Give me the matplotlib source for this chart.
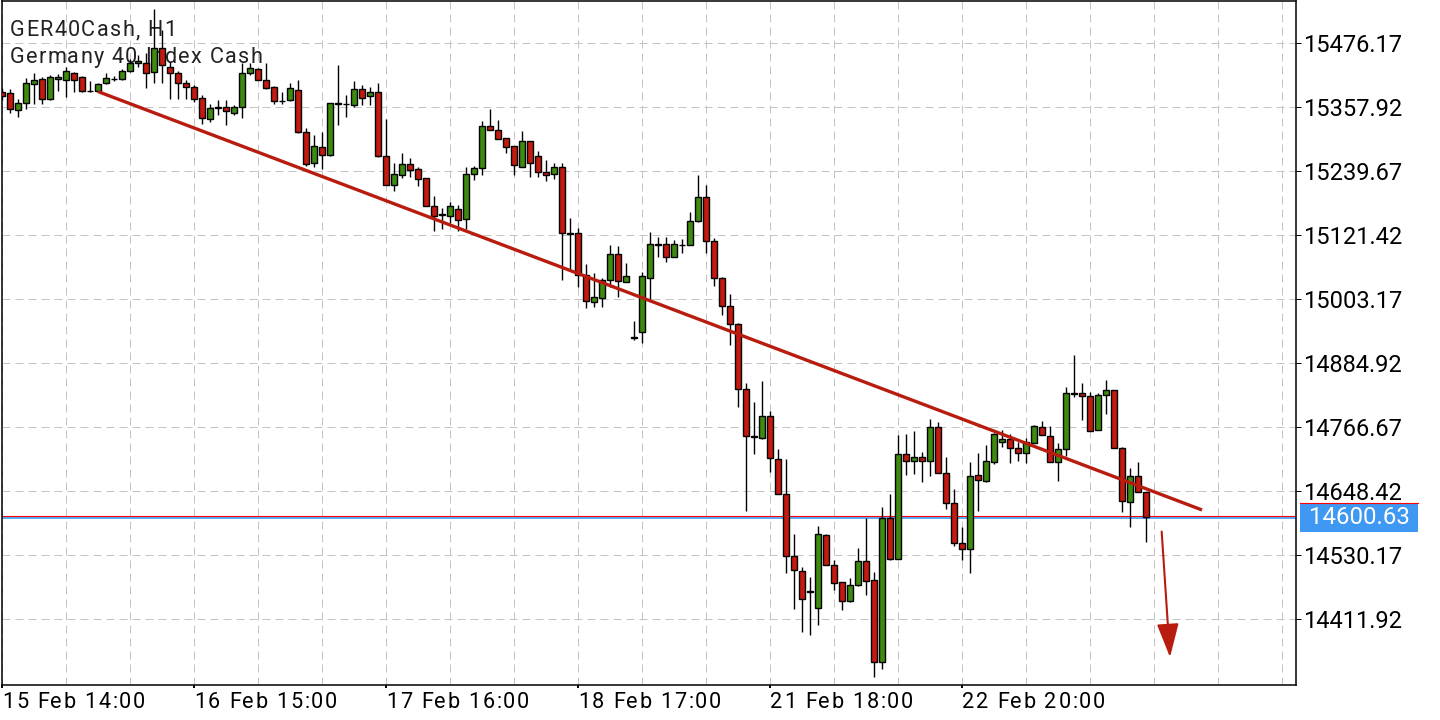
import matplotlib.pyplot as plt
from matplotlib.patches import Rectangle, FancyArrowPatch, ArrowStyle
from matplotlib.transforms import blended_transform_factory, ScaledTranslation
from matplotlib.font_manager import findfont, FontProperties
from matplotlib.ft2font import FT2Font

try:
    from matplotlib.ft2font import LoadFlags
    NO_HINT = LoadFlags.NO_HINTING
except ImportError:
    from matplotlib.ft2font import LOAD_NO_HINTING as NO_HINT

plt.rcParams['font.family'] = ['Roboto', 'DejaVu Sans']

# hourly bars GER40Cash, first bar = 15 Feb 14:00
opens = [15386, 15384, 15353, 15366, 15401, 15410, 15373, 15411, 15408, 15421,
         15414, 15388, 15388, 15403, 15411, 15410, 15425, 15440, 15440, 15423,
         15467, 15432, 15421, 15403, 15395, 15375, 15336, 15357, 15358, 15347,
         15358, 15421, 15429, 15408, 15395, 15370, 15371, 15390, 15312, 15255,
         15285, 15270, 15366, 15364, 15362, 15392, 15379, 15386, 15268, 15214,
         15233, 15253, 15244, 15227, 15175, 15159, 15157, 15170, 15151, 15235,
         15246, 15323, 15316, 15301, 15286, 15248, 15296, 15268, 15238, 15235,
         15248, 15126, 15125, 15048, 14998, 15005, 15039, 15087, 15035, 14933,
         14943, 15042, 15105, 15105, 15081, 15104, 15103, 15148, 15192, 15111,
         15043, 14991, 14957, 14837, 14750, 14747, 14787, 14708, 14643, 14529,
         14501, 14465, 14433, 14568, 14512, 14480, 14446, 14475, 14519, 14484,
         14333, 14600, 14524, 14717, 14705, 14712, 14704, 14767, 14682, 14627,
         14553, 14542, 14678, 14668, 14702, 14740, 14745, 14728, 14719, 14738,
         14768, 14751, 14702, 14727, 14830, 14830, 14824, 14762, 14826, 14835,
         14729, 14628, 14677, 14647]
highs = [15394, 15392, 15373, 15412, 15421, 15414, 15418, 15420, 15432, 15423,
         15416, 15407, 15403, 15421, 15416, 15429, 15447, 15455, 15458, 15540,
         15501, 15442, 15425, 15408, 15399, 15381, 15364, 15371, 15371, 15362,
         15440, 15440, 15431, 15440, 15397, 15386, 15403, 15408, 15320, 15307,
         15312, 15366, 15436, 15381, 15407, 15399, 15395, 15403, 15336, 15255,
         15274, 15264, 15248, 15227, 15194, 15172, 15183, 15177, 15248, 15249,
         15333, 15355, 15334, 15301, 15286, 15314, 15296, 15277, 15261, 15255,
         15255, 15153, 15135, 15068, 15052, 15042, 15103, 15102, 15070, 14963,
         15054, 15127, 15118, 15118, 15113, 15114, 15164, 15233, 15214, 15116,
         15044, 15013, 14959, 14849, 14813, 14852, 14797, 14726, 14708, 14569,
         14508, 14490, 14584, 14569, 14521, 14481, 14488, 14543, 14599, 14499,
         14619, 14643, 14752, 14754, 14760, 14721, 14782, 14776, 14712, 14652,
         14582, 14702, 14719, 14734, 14756, 14762, 14754, 14739, 14747, 14771,
         14778, 14769, 14737, 14841, 14900, 14848, 14832, 14830, 14854, 14836,
         14730, 14691, 14702, 14648]
lows = [15371, 15347, 15340, 15355, 15364, 15364, 15371, 15388, 15377, 15386,
        15386, 15386, 15386, 15401, 15407, 15409, 15424, 15432, 15394, 15403,
        15403, 15373, 15373, 15373, 15368, 15327, 15331, 15344, 15325, 15344,
        15338, 15418, 15408, 15392, 15364, 15364, 15370, 15310, 15249, 15248,
        15244, 15268, 15325, 15340, 15358, 15362, 15362, 15266, 15214, 15203,
        15227, 15229, 15212, 15175, 15129, 15133, 15144, 15129, 15133, 15224,
        15233, 15316, 15299, 15273, 15233, 15248, 15229, 15229, 15222, 15225,
        15039, 15057, 15026, 14987, 14989, 14989, 15026, 15007, 15035, 14928,
        14922, 15002, 15081, 15072, 15081, 15089, 15103, 15146, 15089, 15028,
        14974, 14919, 14804, 14612, 14717, 14745, 14684, 14643, 14497, 14431,
        14388, 14383, 14401, 14512, 14466, 14429, 14444, 14473, 14457, 14305,
        14320, 14521, 14523, 14678, 14680, 14665, 14676, 14682, 14615, 14547,
        14521, 14497, 14612, 14665, 14699, 14730, 14701, 14704, 14701, 14737,
        14752, 14702, 14667, 14713, 14822, 14780, 14760, 14761, 14791, 14728,
        14610, 14582, 14647, 14555]
closes = [15379, 15355, 15366, 15403, 15408, 15373, 15414, 15413, 15425, 15408,
          15388, 15388, 15401, 15412, 15410, 15425, 15440, 15443, 15421, 15467,
          15436, 15421, 15403, 15395, 15373, 15338, 15357, 15358, 15351, 15358,
          15421, 15431, 15408, 15394, 15370, 15369, 15394, 15312, 15253, 15286,
          15270, 15366, 15364, 15364, 15392, 15375, 15386, 15268, 15214, 15235,
          15253, 15242, 15225, 15175, 15157, 15161, 15175, 15150, 15235, 15246,
          15323, 15316, 15299, 15285, 15251, 15296, 15255, 15238, 15233, 15248,
          15126, 15124, 15048, 15000, 15007, 15039, 15087, 15037, 15046, 14932,
          15046, 15105, 15104, 15081, 15105, 15103, 15148, 15192, 15111, 15042,
          14991, 14957, 14837, 14751, 14749, 14787, 14710, 14643, 14529, 14503,
          14449, 14463, 14569, 14512, 14479, 14446, 14475, 14519, 14482, 14333,
          14600, 14523, 14717, 14704, 14712, 14704, 14767, 14682, 14627, 14553,
          14542, 14676, 14669, 14704, 14754, 14745, 14728, 14719, 14739, 14769,
          14752, 14702, 14726, 14830, 14829, 14824, 14760, 14826, 14835, 14728,
          14630, 14676, 14647, 14600.63]

bid = 14600.63
ask = 14602.0

price_ticks = [15476.17, 15357.92, 15239.67, 15121.42, 15003.17,
               14884.92, 14766.67, 14648.42, 14530.17, 14411.92]
date_pos = [0, 24, 48, 72, 96, 120]
date_labels = ['15 Feb 14:00', '16 Feb 15:00', '17 Feb 16:00',
               '18 Feb 17:00', '21 Feb 18:00', '22 Feb 20:00']

# trend line and arrow (bar index, price)
trend_x = [12, 150]
trend_y = [15387, 14614]
arrow_from = (144.96, 14574)
arrow_to = (146.0, 14342)

GREEN = '#3d8b0f'
RED = '#c41a10'
LINE_RED = '#b81c0e'
BLUE = '#3f98f2'
DPI = 100

fig = plt.figure(figsize=(14.4, 7.2), dpi=DPI)
ax = fig.add_axes([2 / 1440, 35 / 720, 1294 / 1440, 684 / 720])

font_file = findfont(FontProperties(family='Roboto'))


def spaced_text(x, y, s, transform, size, spacing, dy=0, **kw):
    # terminal text is drawn with a bit of letter spacing
    ft = FT2Font(font_file)
    ft.set_size(size, DPI)
    pen = 0.0
    for ch in s:
        off = ScaledTranslation(pen / DPI, dy / DPI, fig.dpi_scale_trans)
        ax.text(x, y, ch, transform=transform + off, fontsize=size,
                ha='left', va='baseline', **kw)
        g = ft.load_char(ord(ch), flags=NO_HINT)
        pen += g.linearHoriAdvance / 65536 + spacing


n = len(opens)
xs = list(range(n))
colors = [GREEN if c >= o else RED for o, c in zip(opens, closes)]

ax.vlines(xs, lows, highs, color='black', linewidth=1.0, zorder=3)
ax.bar(xs, [c - o for o, c in zip(opens, closes)], bottom=opens, width=0.7,
       color=colors, edgecolor='black', linewidth=1.0, zorder=4)

ax.axhline(ask, color='#ff0000', linewidth=0.8, zorder=2)
ax.axhline(bid - 1.3, color=BLUE, linewidth=1.2, zorder=2)

ax.plot(trend_x, trend_y, color=LINE_RED, linewidth=2.4, zorder=6,
        solid_capstyle='butt')
arr = FancyArrowPatch(arrow_from, arrow_to,
                      arrowstyle=ArrowStyle('-|>', head_length=20.9, head_width=6.8),
                      mutation_scale=1, color=LINE_RED, linewidth=1.5,
                      shrinkA=0, shrinkB=0, zorder=6)
ax.add_patch(arr)

ax.set_xlim(0, 161.75)
ax.set_ylim(14290.6, 15554.3)

# axes and grid
ax.yaxis.tick_right()
ax.set_yticks(price_ticks)
ax.set_yticklabels([f'{v:.2f}' for v in price_ticks])
ax.set_xticks(date_pos)
ax.set_xticklabels([])
ax.set_xticks(range(0, 162, 8), minor=True)
ax.tick_params(axis='y', length=3.6, width=0.72, pad=1.5, labelsize=17, colors='black')
ax.tick_params(axis='x', which='major', length=2, width=1.4)
ax.tick_params(axis='x', which='minor', length=0)
ax.grid(axis='x', which='both', color='#c4c4c4', linestyle=(0, (8, 5)), linewidth=0.72, zorder=0)
ax.grid(axis='y', which='major', color='#c4c4c4', linestyle=(0, (8, 5)), linewidth=0.72, zorder=0)
ax.set_axisbelow(True)
for sp in ax.spines.values():
    sp.set_linewidth(1.1)
    sp.set_color('black')

# date labels under the axis, left aligned on their tick
xtr = ax.get_xaxis_transform()
for pos, lab in zip(date_pos, date_labels):
    spaced_text(pos, 0, lab, xtr, 15.6, 1.7, dy=-23, color='black')

spaced_text(8 / 1294, 0.9488, 'GER40Cash, H1', ax.transAxes, 15.6, 1.3,
            color='#222222', zorder=1)
spaced_text(8 / 1294, 0.9094, 'Germany 40 Index Cash', ax.transAxes, 15.6, 1.2,
            color='#222222', zorder=1)

# current price label on the price scale
tr = blended_transform_factory(ax.transAxes, ax.transData)
ax.add_patch(Rectangle((1.0031, bid - 26.8), 0.0912, 53.6, transform=tr,
                       facecolor=BLUE, edgecolor='none', clip_on=False, zorder=7))
ax.plot([1.0031, 1.0943], [bid + 26.8, bid + 26.8], transform=tr,
        color='#ff0000', linewidth=0.8, clip_on=False, zorder=8)
ax.text(1.0487, bid, f'{bid:.2f}', transform=tr, ha='center', va='center',
        fontsize=17.3, color='white', clip_on=False, zorder=9)

fig.savefig('out.png', dpi=DPI, facecolor='white')
